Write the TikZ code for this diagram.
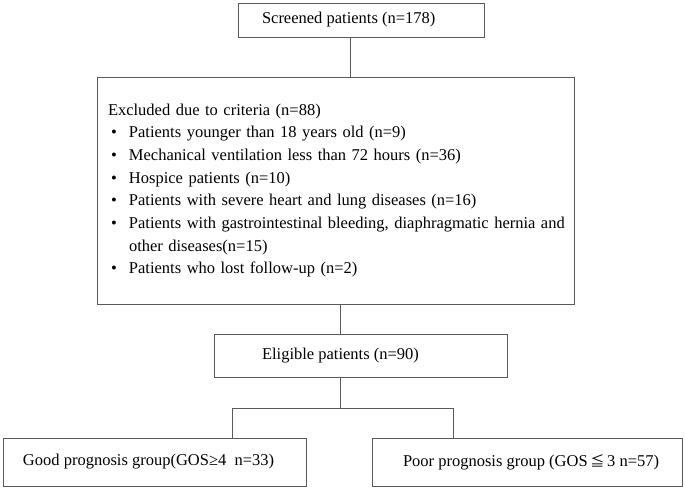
\documentclass[tikz,border=0pt]{standalone}
\usepackage{fontspec}
\setmainfont{Liberation Serif}
\newfontfamily\symfont{Noto Sans CJK SC}
\usetikzlibrary{calc}
\newcommand\bulitem{\makebox[21pt][l]{\hspace*{3pt}•}}
\begin{document}
\begin{tikzpicture}[x=1pt,y=-1pt,
  box/.style={draw=black!65, line width=0.9pt, rectangle, inner sep=0pt,
    font=\fontsize{16.5}{22.7}\selectfont},
  conn/.style={draw=black!65, line width=0.9pt}]
\useasboundingbox (0,0) rectangle (685,490);
\node[box, minimum height=34] (top) at (361,20)
  {\makebox[246pt][l]{\hspace*{24pt}Screened patients (n=178)}};
\node[box, minimum height=227, text width=477pt, align=left] (excl) at (335.5,190.5)
  {\hspace*{11pt}Excluded due to criteria (n=88)\\
   \hspace*{11pt}\bulitem Patients younger than 18 years old (n=9)\\
   \hspace*{11pt}\bulitem Mechanical ventilation less than 72 hours (n=36)\\
   \hspace*{11pt}\bulitem Hospice patients (n=10)\\
   \hspace*{11pt}\bulitem Patients with severe heart and lung diseases (n=16)\\
   \hspace*{11pt}\bulitem Patients with gastrointestinal bleeding, diaphragmatic hernia and\\
   \hspace*{32pt}other diseases(n=15)\\
   \hspace*{11pt}\bulitem Patients who lost follow-up (n=2)};
\node[box, minimum height=43] (elig) at (360.5,355.5)
  {\makebox[293pt][l]{\hspace*{48pt}Eligible patients (n=90)}};
\node[box, minimum height=48] (good) at (154.5,462)
  {\makebox[303pt][l]{\hspace*{20pt}Good prognosis group(GOS≥4\ \ n=33)}};
\node[box, minimum height=48] (poor) at (527,462)
  {\makebox[310pt][l]{\hspace*{31pt}Poor prognosis group (GOS\,{\symfont\fontsize{14}{16}\selectfont ≦}\,3\ n=57)}};
\coordinate (c1) at (350,0);
\coordinate (jn) at (340,408);
\coordinate (gl) at (232,408);
\coordinate (gr) at (453,408);
\draw[conn] (top.south -| c1) -- (excl.north -| c1);
\draw[conn] (excl.south -| jn) -- (elig.north -| jn);
\draw[conn] (elig.south -| jn) -- (jn);
\draw[conn] (good.north -| gl) -- (gl) -- (gr) -- (poor.north -| gr);
\end{tikzpicture}
\end{document}
